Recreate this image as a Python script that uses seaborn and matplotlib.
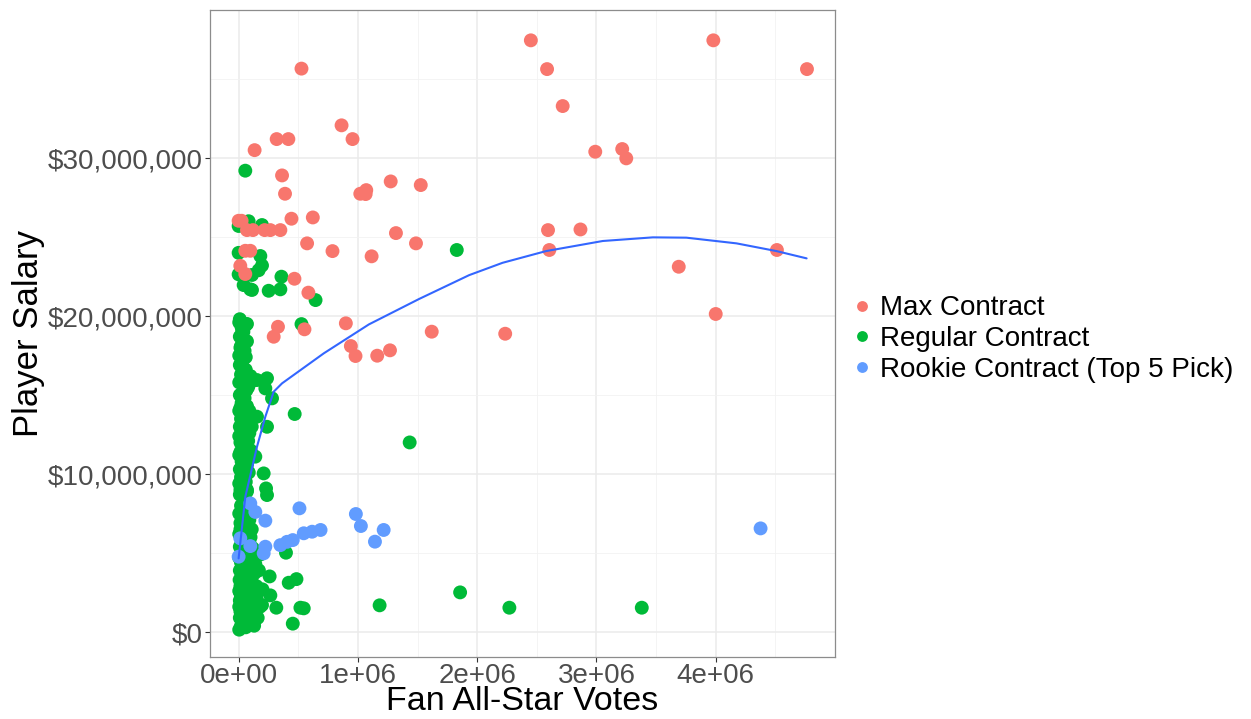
import numpy as np
import pandas as pd
import matplotlib
matplotlib.use("Agg")
import matplotlib.pyplot as plt
import seaborn as sns
from matplotlib.ticker import MultipleLocator

# ---------------------------------------------------------------------------
# Data: fan all-star votes (thousands) and salary (millions of dollars)
# ---------------------------------------------------------------------------
contract_types = ["Max Contract", "Regular Contract", "Rookie Contract (Top 5 Pick)"]

max_votes_k = [527, 2450, 2586, 2717, 863, 955, 319, 417, 134, 2990, 3216, 3250,
               364, 389, 1020, 1070, 1065, 1275, 1527, 0, 25, 70, 120, 218, 266,
               350, 443, 622, 1319, 1487, 574, 787, 1115, 2594, 2866, 2605, 56,
               98, 14, 56, 468, 585, 899, 330, 294, 552, 1619, 2235, 3980, 4765,
               4513, 3690, 4000, 941, 980, 1162, 1269]
max_salary_m = [35.66, 37.45, 35.63, 33.29, 32.07, 31.2, 31.2, 31.2, 30.5, 30.4,
                30.57, 29.98, 28.9, 27.74, 27.74, 27.97, 27.72, 28.52, 28.29,
                26.03, 26.03, 25.44, 25.44, 25.44, 25.44, 25.44, 26.16, 26.24,
                25.25, 24.6, 24.6, 24.11, 23.78, 25.44, 25.48, 24.18, 24.13,
                24.13, 23.18, 22.66, 22.36, 21.48, 19.54, 19.32, 18.69, 19.16,
                19.01, 18.88, 37.45, 35.63, 24.18, 23.12, 20.13, 18.1, 17.47,
                17.49, 17.83]

regular_votes_k = [5, 20, 60, 10, 35, 80, 15, 50, 100, 5, 30, 70, 120, 10, 45, 90,
                   20, 60, 140, 5, 35, 75, 15, 110, 50, 8, 85, 25, 130, 60, 10, 40,
                   95, 20, 70, 5, 50, 110, 30, 80, 10, 55, 25, 100, 5, 45, 70, 15,
                   90, 35, 5, 60, 20, 80, 40, 10, 70, 30, 5, 55, 20, 85, 10, 45,
                   25, 60, 5, 35, 75, 15, 50, 5, 90, 30, 10, 60, 20, 40, 5, 70,
                   25, 50, 10, 35, 80, 5, 45, 20, 60, 10, 35, 5, 50, 20, 70, 10,
                   40, 25, 5, 55,
                   130, 160, 90, 180, 25, 150, 200, 110, 170, 140, 60, 40, 15,
                   55, 100, 30, 120, 90, 180,
                   40, 15, 65, 30, 50, 15, 60, 30, 70, 15, 40, 25, 55, 15, 30,
                   65, 20, 50, 25, 60, 15, 45, 30, 70, 10, 100, 120, 90, 110, 80,
                   100, 70, 95, 110,
                   56, 84, 0, 196, 0, 182, 196, 168, 112, 0, 42, 98, 112, 252,
                   350, 359, 645, 1829, 527, 470, 1434, 154, 238, 224, 280, 154,
                   238, 140, 210, 230, 238, 397, 260, 420, 485, 266, 316, 518,
                   546, 454, 1182, 1857, 2270, 3380, 196, 120, 150]
regular_salary_m = [0.15, 0.4, 0.6, 0.9, 1.0, 1.1, 1.3, 1.4, 1.5, 1.6, 1.7, 1.8,
                    1.9, 2.0, 2.1, 2.2, 2.3, 2.4, 2.5, 2.6, 2.7, 2.8, 2.9, 3.0,
                    3.1, 3.3, 3.4, 3.5, 3.7, 3.8, 3.9, 4.1, 4.2, 4.4, 4.5, 4.7,
                    4.8, 4.9, 5.0, 5.2, 5.4, 5.6, 5.8, 6.0, 6.2, 6.4, 6.6, 6.9,
                    7.1, 7.3, 7.5, 7.8, 8.0, 8.2, 8.5, 8.7, 8.9, 9.2, 9.4, 9.6,
                    9.8, 10.1, 10.3, 10.5, 10.8, 11.0, 11.2, 11.5, 11.7, 12.0,
                    12.2, 12.4, 12.6, 12.8, 13.0, 13.2, 13.5, 13.8, 14.0, 14.3,
                    14.5, 14.8, 15.0, 15.2, 15.5, 15.8, 16.0, 16.3, 16.6, 16.9,
                    17.2, 17.5, 17.8, 18.1, 18.4, 18.7, 19.0, 19.3, 19.6, 19.4,
                    0.4, 0.9, 1.2, 1.6, 1.9, 2.2, 2.7, 3.2, 3.9, 4.3, 0.3, 1.15,
                    2.45, 3.0, 3.6, 4.6, 5.3, 5.7, 4.9,
                    5.9, 6.5, 7.0, 7.7, 8.4, 9.0, 9.5, 10.0, 10.6, 11.4, 11.9,
                    12.9, 13.4, 14.2, 14.9, 15.3, 15.9, 16.5, 17.0, 17.4, 18.0,
                    18.5, 19.1, 19.5, 19.8, 16.2, 15.9, 14.0, 13.0, 12.1, 11.5,
                    9.0, 8.0, 6.5,
                    29.2, 26.0, 25.7, 25.76, 24.0, 23.8, 23.2, 22.9, 22.6, 22.64,
                    21.96, 21.69, 21.65, 21.6, 21.69, 22.49, 21.01, 24.18, 19.49,
                    13.8, 12.0, 15.95, 16.06, 15.42, 14.79, 13.63, 12.99, 11.1,
                    10.04, 9.09, 8.67, 5.02, 3.52, 3.12, 3.35, 2.32, 1.54, 1.54,
                    1.5, 0.53, 1.69, 2.51, 1.54, 1.54, 1.71, 0.8, 2.9]

rookie_votes_k = [98, 140, 224, 14, 98, 224, 210, 350, 406, 454, 546, 616, 687,
                  0, 510, 983, 1025, 1216, 1143, 4376]
rookie_salary_m = [8.14, 7.6, 7.05, 5.93, 5.44, 5.4, 4.98, 5.5, 5.71, 5.82, 6.25,
                   6.35, 6.46, 4.77, 7.83, 7.47, 6.71, 6.46, 5.72, 6.56]

# Loess trend of salary on votes (votes in millions, salary in millions)
trend_votes_m = [0.0, 0.056, 0.154, 0.224, 0.294, 0.364, 0.714, 1.092, 1.513,
                 1.933, 2.213, 2.577, 3.053, 3.473, 3.754, 4.174, 4.51, 4.762]
trend_salary_m = [4.66, 8.56, 11.73, 13.63, 15.21, 15.74, 17.64, 19.47, 21.08,
                  22.59, 23.37, 24.11, 24.75, 24.98, 24.96, 24.6, 24.11, 23.65]

x_ticks = [0, 1e6, 2e6, 3e6, 4e6]
x_tick_labels = ["0e+00", "1e+06", "2e+06", "3e+06", "4e+06"]
y_ticks = [0, 10e6, 20e6, 30e6]
y_tick_labels = ["$0", "$10,000,000", "$20,000,000", "$30,000,000"]

# ---------------------------------------------------------------------------
# Assemble a long table
# ---------------------------------------------------------------------------
frames = []
for label, vk, sm in [
    (contract_types[1], regular_votes_k, regular_salary_m),
    (contract_types[2], rookie_votes_k, rookie_salary_m),
    (contract_types[0], max_votes_k, max_salary_m),
]:
    frames.append(pd.DataFrame({
        "votes": np.array(vk, dtype=float) * 1e3,
        "salary": np.array(sm, dtype=float) * 1e6,
        "contract": label,
    }))
players = pd.concat(frames, ignore_index=True)

trend = pd.DataFrame({
    "votes": np.array(trend_votes_m) * 1e6,
    "salary": np.array(trend_salary_m) * 1e6,
})

# ---------------------------------------------------------------------------
# Plot
# ---------------------------------------------------------------------------
sns.set_style("white")
plt.rcParams["font.family"] = ["Liberation Sans", "DejaVu Sans"]

W, H = 1251, 719
fig = plt.figure(figsize=(W / 100, H / 100), dpi=100)
ax = fig.add_axes([210 / W, 1 - 657 / H, 625 / W, 647 / H])

palette = {
    "Max Contract": "#F8766D",
    "Regular Contract": "#00BA38",
    "Rookie Contract (Top 5 Pick)": "#619CFF",
}

sns.scatterplot(data=players, x="votes", y="salary", hue="contract",
                hue_order=contract_types, palette=palette, s=100, linewidth=0,
                alpha=1, ax=ax, zorder=3)
sns.lineplot(data=trend, x="votes", y="salary", color="#3366FF", linewidth=1.5,
             ax=ax, zorder=4)

ax.set_xlim(-0.24e6, 5.0e6)
ax.set_ylim(-1.58e6, 39.37e6)

ax.set_xticks(x_ticks)
ax.set_xticklabels(x_tick_labels)
ax.set_yticks(y_ticks)
ax.set_yticklabels(y_tick_labels)
ax.xaxis.set_minor_locator(MultipleLocator(0.5e6))
ax.yaxis.set_minor_locator(MultipleLocator(5e6))

ax.grid(which="major", color="#EBEBEB", linewidth=1.1, zorder=0)
ax.grid(which="minor", color="#F2F2F2", linewidth=0.6, zorder=0)
ax.set_axisbelow(True)

ax.tick_params(which="major", length=3.5, width=0.8, color="#333333",
               labelsize=20, labelcolor="#4D4D4D", pad=2,
               left=True, bottom=True)
ax.tick_params(axis="x", which="major", pad=1)
ax.tick_params(which="minor", length=0)

for spine in ax.spines.values():
    spine.set_color("#8C8C8C")
    spine.set_linewidth(0.9)

ax.set_xlabel("Fan All-Star Votes", fontsize=24.5, color="black", labelpad=-2)
ax.set_ylabel("Player Salary", fontsize=25, color="black", labelpad=1.5)

handles, labels = ax.get_legend_handles_labels()
if ax.legend_ is not None:
    ax.legend_.remove()
leg = ax.legend(handles[:3], labels[:3], loc="center left",
                bbox_to_anchor=(852 / W, 1 - 339 / H),
                bbox_transform=fig.transFigure, frameon=False, fontsize=20,
                handlelength=0.7, handletextpad=0.3, labelspacing=0.17,
                borderpad=0, borderaxespad=0, markerscale=0.78)
for t in leg.get_texts():
    t.set_color("black")

fig.savefig("out.png", dpi=100, facecolor="white")
